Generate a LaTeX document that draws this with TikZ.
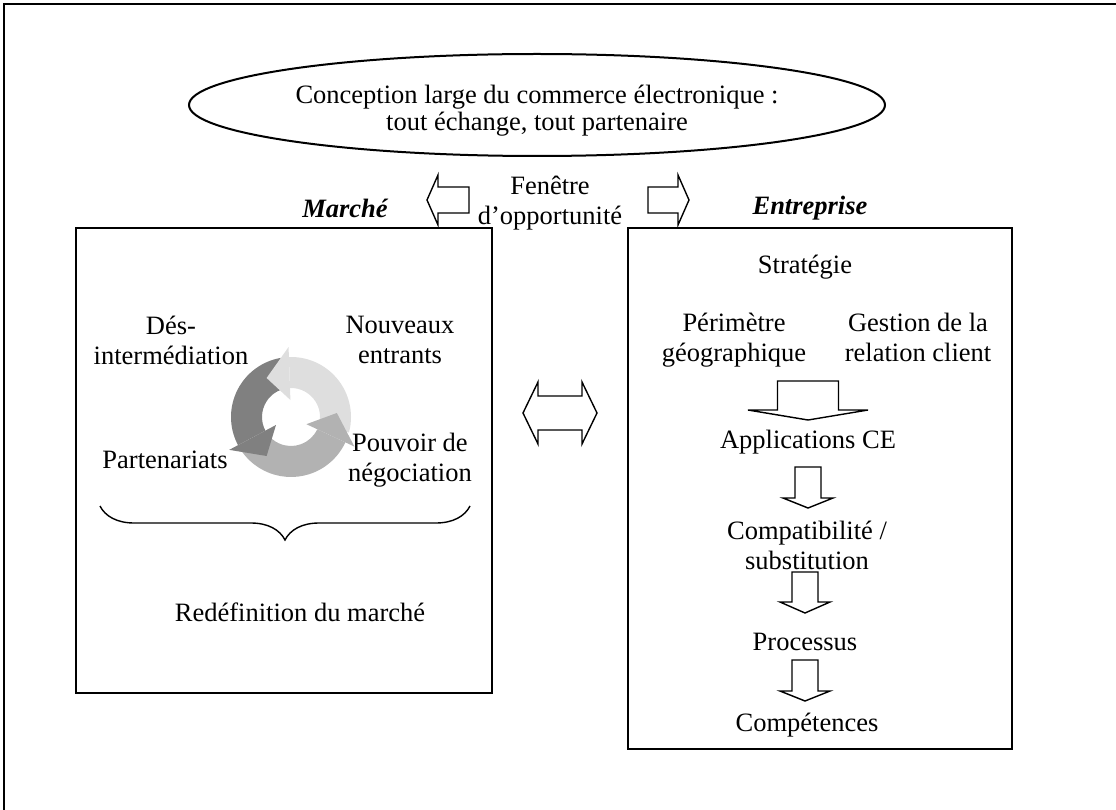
\documentclass[tikz,border=0pt]{standalone}
\usepackage{fontspec}
\setmainfont{Liberation Serif}
\usetikzlibrary{shapes.geometric,decorations.pathreplacing,calc}

\definecolor{ringdark}{gray}{0.50}
\definecolor{ringmid}{gray}{0.70}
\definecolor{ringlight}{gray}{0.87}

\tikzstyle{txt}=[align=center,inner sep=0pt,
                 font=\fontsize{26.5}{30}\selectfont]
\tikzstyle{paired}=[txt,execute at begin node=\strut,
                    execute at end node=\strut]
\tikzstyle{title}=[txt,font=\fontsize{26.5}{30}\selectfont\bfseries\itshape]
\tikzstyle{panel}=[draw=black,line width=1.6pt,inner sep=0pt]
\tikzstyle{hollow}=[draw=black,fill=white,line width=1.4pt,line join=miter]

\tikzset{
  pics/blockarrow/.style n args={4}{code={
    \draw[hollow] (-#3/2,-#1) -- (#3/2-#4,-#1) -- (#3/2-#4,-#2) -- (#3/2,0)
      -- (#3/2-#4,#2) -- (#3/2-#4,#1) -- (-#3/2,#1) -- cycle;
  }},
  pics/twoway/.style n args={4}{code={
    \draw[hollow] (-#3/2,0) -- (-#3/2+#4,-#2) -- (-#3/2+#4,-#1)
      -- (#3/2-#4,-#1) -- (#3/2-#4,-#2) -- (#3/2,0) -- (#3/2-#4,#2)
      -- (#3/2-#4,#1) -- (-#3/2+#4,#1) -- (-#3/2+#4,#2) -- cycle;
  }},
}

\begin{document}
\begin{tikzpicture}[x=1pt,y=-1pt]
    \useasboundingbox (0,0) rectangle (1116,810);
    \draw[line width=2pt] (4,810) -- (4,4) -- (1116,4);

    % top
    \node[ellipse,draw=black,line width=2pt,minimum width=696,
          minimum height=102] (concept) at (537,105) {};
    \node[txt,font=\fontsize{26.5}{27}\selectfont] (concepttxt) at (537,111)
          {Conception large du commerce électronique :\\tout échange, tout partenaire};
    \node[txt] (fenetre) at (550,203) {Fenêtre\\d’opportunité};
    \pic[rotate=180] at ($(fenetre)+(-102,-3)$) {blockarrow={13}{25}{42}{11}};
    \pic at ($(fenetre)+(118.5,-3)$) {blockarrow={13}{25}{41}{11}};

    % boxes
    \node[title] (marche) at (345,208) {Marché};
    \node[title] (entrep) at (810,208) {Entreprise};
    \node[panel,minimum width=416,minimum height=465] (marchebox) at (284,460.5) {};
    \node[panel,minimum width=384,minimum height=521] (entrbox) at (820,488.5) {};
    \pic at (560,413) {twoway={17}{31}{74}{15}};

    % market side
    \node[txt] (desinter) at (171,340) {Dés-\\intermédiation};
    \node[txt] (entrants) at (400,340) {Nouveaux\\entrants};
    \node[txt] (partner) at (165,460) {Partenariats};
    \node[txt] (pouvoir) at (410,460) {Pouvoir de\\négociation};
    \coordinate (cycle) at (291,417);
    \begin{scope}[shift={(cycle)},yscale=-1]
      \foreach \c/\a/\b in {ringdark/100/208,ringmid/215/335,ringlight/-15/92}
        \fill[\c] (\a:60) arc[start angle=\a,end angle=\b,radius=60]
          -- (\b:29) arc[start angle=\b,end angle=\a,radius=29] -- cycle;
      \foreach \c/\b in {ringdark/208,ringmid/335,ringlight/92}
        \fill[\c] (\b:17) -- (\b:70) -- (\b+30:46) -- cycle;
    \end{scope}
    \draw[decorate,decoration={brace,amplitude=34pt,mirror},line width=1.4pt]
      (100,506) -- (470,506);
    \node[txt] (redef) at (300,612) {Redéfinition du marché};

    % firm side
    \node[txt] (strat) at (805,267) {Stratégie};
    \node[paired] (perim) at (734,342) {Périmètre\\géographique};
    \node[paired] (gestion) at (918,342) {Gestion de la\\relation client};
    \node[txt] (appli) at (808,442) {Applications CE};
    \node[txt] (compat) at (807,545) {Compatibilité /\\substitution};
    \node[txt] (proc) at (805,642) {Processus};
    \node[txt] (compet) at (807,725) {Compétences};
    \pic[rotate=-90] at ($(appli)+(0,-41.5)$) {blockarrow={30.5}{60}{39}{10}};
    \pic[rotate=-90] at ($(appli)+(0,45.5)$) {blockarrow={13}{25}{41}{10}};
    \pic[rotate=-90] at ($(proc)+(0,-49.5)$) {blockarrow={13}{25}{41}{11}};
    \pic[rotate=-90] at ($(proc)+(0,38.5)$) {blockarrow={13}{25}{41}{10}};
\end{tikzpicture}
\end{document}
